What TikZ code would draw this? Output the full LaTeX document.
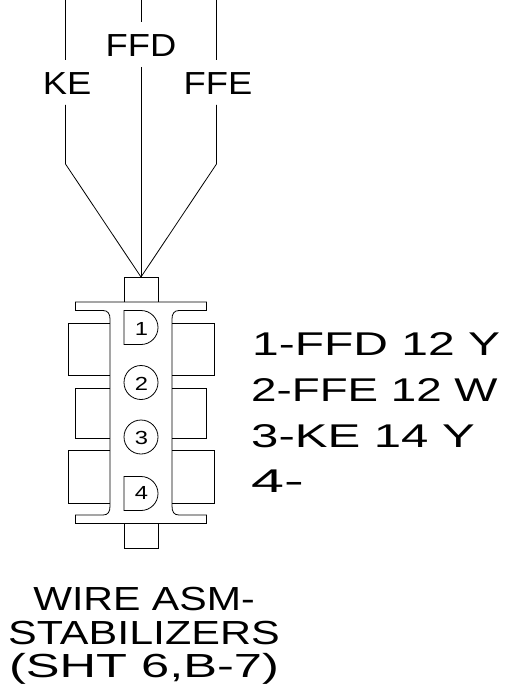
\documentclass[tikz,border=0pt]{standalone}
\usepackage{fontspec}
\setmainfont[FakeStretch=1.14]{Liberation Sans}
\newcommand{\sx}[2]{\scalebox{#1}[1]{#2}}
\tikzset{
 ln/.style={draw=black,line width=0.8pt},
 lbl/.style={inner sep=0pt,anchor=base,font=\fontsize{32}{32}\selectfont},
 tbl/.style={inner sep=0pt,anchor=base west,font=\fontsize{33}{33}\selectfont},
 captext/.style={inner sep=0pt,anchor=base,font=\fontsize{33.5}{33.5}\selectfont},
 pin/.style={inner sep=0pt,anchor=base,font=\fontsize{19}{19}\selectfont},
}
\begin{document}
\begin{tikzpicture}[x=1bp,y=-1bp]
\useasboundingbox (0,0) rectangle (524,696);
% wires
\coordinate (tip) at (141,277);
\coordinate (a0) at (65.5,0); \coordinate (a1) at (65.5,60); \coordinate (a2) at (65.5,105); \coordinate (a3) at (65.5,164);
\coordinate (b0) at (141,0); \coordinate (b1) at (141,22); \coordinate (b2) at (141,67);
\coordinate (c0) at (216.5,0); \coordinate (c1) at (216.5,60); \coordinate (c2) at (216.5,105); \coordinate (c3) at (216.5,164);
\draw[ln] (a0)--(a1) (a2)--(a3)--(tip);
\draw[ln] (b0)--(b1) (b2)--(tip);
\draw[ln] (c0)--(c1) (c2)--(c3)--(tip);
\node[lbl] (ffd) at (141,57) {FFD};
\node[lbl] (ke) at (67,95) {KE};
\node[lbl] (ffe) at (218,95) {FFE};
% connector
\draw[ln] (124,302)--(124,277)--(158,277)--(158,302);
\draw[ln] (124,523.5)--(124,548)--(158,548)--(158,523.5);
\draw[ln] (110,323)--(68,323)--(68,375.7)--(110,375.7);
\draw[ln] (110,388)--(75.5,388)--(75.5,438)--(110,438);
\draw[ln] (110,450)--(68,450)--(68,503)--(110,503);
\draw[ln] (172,323)--(214,323)--(214,375.7)--(172,375.7);
\draw[ln] (172,388)--(206.5,388)--(206.5,438)--(172,438);
\draw[ln] (172,450)--(214,450)--(214,503)--(172,503);
\draw[ln] (103,310.5)--(75.5,310.5)--(75.5,302)--(206.5,302)--(206.5,310.5)--(179,310.5)
  .. controls (174,310.5) and (172,314) .. (172,319) -- (172,506)
  .. controls (172,512) and (174,515) .. (179,515) -- (206.5,515)--(206.5,523.5)--(75.5,523.5)--(75.5,515)--(103,515)
  .. controls (108,515) and (110,512) .. (110,506) -- (110,319)
  .. controls (110,314) and (108,310.5) .. (103,310.5);
% pins
\draw[ln] (124,310.5)--(141,310.5) arc[start angle=-90,end angle=90,radius=17]--(124,344.5)--cycle;
\node[ln,circle,minimum size=34bp,inner sep=0pt] (p2) at (141,382.5) {};
\node[ln,circle,minimum size=34bp,inner sep=0pt] (p3) at (141,437) {};
\draw[ln] (124,476.5)--(141,476.5) arc[start angle=-90,end angle=90,radius=17]--(124,510.5)--cycle;
\node[pin] (n1) at (141.5,335) {\sx{1.1}{1}};
\node[pin] (n2) at (141.5,390) {\sx{1.1}{2}};
\node[pin] (n3) at (141.5,444) {\sx{1.1}{3}};
\node[pin] (n4) at (141.5,499) {\sx{1.1}{4}};
% wire table
\node[tbl] (t1) at (252,355.5) {\sx{1.28}{1-FFD 12 Y}};
\node[tbl] (t2) at (251,401.5) {\sx{1.22}{2-FFE 12 W}};
\node[tbl] (t3) at (251,447) {\sx{1.31}{3-KE 14 Y}};
\node[tbl] (t4) at (251,492) {\sx{1.58}{4-}};
% caption
\node[captext] (w1) at (144,610) {\sx{1.08}{WIRE ASM-}};
\node[captext] (w2) at (144,644) {\sx{1.13}{STABILIZERS}};
\node[captext] (w3) at (144,677) {\sx{1.33}{(SHT 6,B-7)}};
\end{tikzpicture}
\end{document}
